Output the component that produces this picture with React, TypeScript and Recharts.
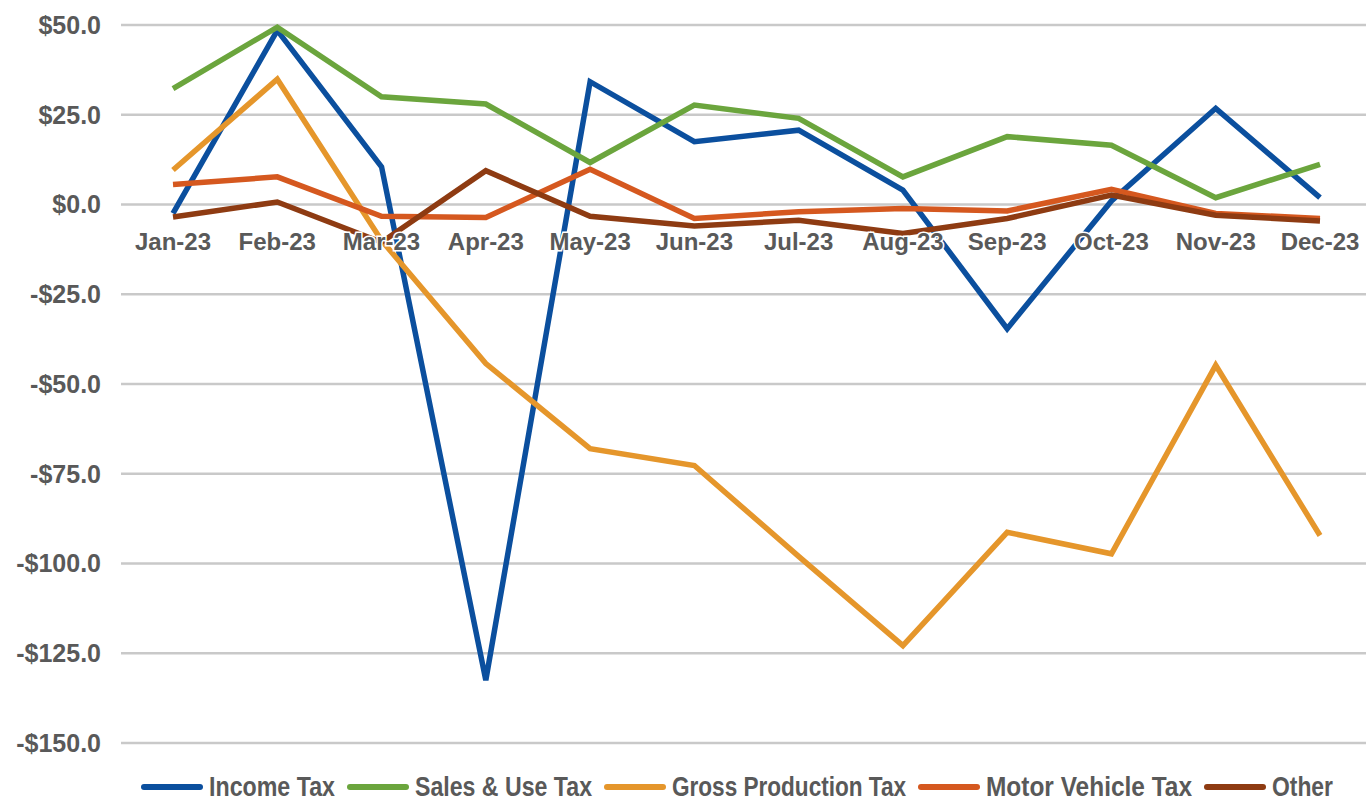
import { CartesianGrid, Legend, Line, LineChart, XAxis, YAxis } from "recharts";

const months = ["Jan-23", "Feb-23", "Mar-23", "Apr-23", "May-23", "Jun-23", "Jul-23", "Aug-23", "Sep-23", "Oct-23", "Nov-23", "Dec-23"];
const incomeTax = [-2.5, 48.5, 10.5, -132.5, 34.2, 17.5, 20.7, 4.0, -34.6, 1.0, 26.8, 1.9];
const salesUseTax = [32.3, 49.4, 30.0, 28.0, 11.7, 27.7, 24.0, 7.7, 18.9, 16.5, 1.9, 11.2];
const grossProductionTax = [9.6, 34.9, -10.0, -44.3, -68.0, -72.7, -98.0, -122.9, -91.3, -97.3, -44.8, -92.2];
const motorVehicleTax = [5.6, 7.7, -3.3, -3.6, 9.8, -3.9, -2.0, -1.1, -1.8, 4.2, -2.5, -3.9];
const other = [-3.5, 0.7, -10.5, 9.4, -3.3, -6.0, -4.4, -8.1, -3.9, 2.6, -3.0, -4.6];
const yTicks = [50, 25, 0, -25, -50, -75, -100, -125, -150];

const Y_MIN = -150;
const Y_MAX = 50;
const TOP = 25;
const PLOT_H = 718;
const ZERO_Y = TOP + (PLOT_H * Y_MAX) / (Y_MAX - Y_MIN);

const TEXT = "#595959";
const FONT = "'Liberation Sans', Arial, sans-serif";

// legend text is condensed in the original, squeeze each label into its width
const legendTextWidth: Record<string, number> = {
    "Income Tax": 126,
    "Sales & Use Tax": 177,
    "Gross Production Tax": 234,
    "Motor Vehicle Tax": 206,
    "Other": 61,
};

const series = [
    { key: "income", name: "Income Tax", color: "#0b4f9e", values: incomeTax },
    { key: "sales", name: "Sales & Use Tax", color: "#6ba53d", values: salesUseTax },
    { key: "gross", name: "Gross Production Tax", color: "#e5962b", values: grossProductionTax },
    { key: "motor", name: "Motor Vehicle Tax", color: "#d5581f", values: motorVehicleTax },
    { key: "other", name: "Other", color: "#8e3b12", values: other },
];

const data = months.map((m, i) => {
    const row: Record<string, string | number> = { month: m };
    series.forEach((s) => (row[s.key] = s.values[i]));
    return row;
});

function money(v: number) {
    const s = `$${Math.abs(v).toFixed(1)}`;
    return v < 0 ? `-${s}` : s;
}

function MonthTick({ x, payload }: any) {
    return (
        <text
            x={x}
            y={ZERO_Y + 45}
            textAnchor="middle"
            fill={TEXT}
            fontFamily={FONT}
            fontWeight="bold"
            fontSize={24}
            stroke="#ffffff"
            strokeWidth={3}
            paintOrder="stroke"
        >
            {payload.value}
        </text>
    );
}

function LegendBox({ payload }: any) {
    const order = series.map((s) => s.name);
    const items = [...(payload || [])].sort((a: any, b: any) => order.indexOf(a.value) - order.indexOf(b.value));
    return (
        <div style={{ display: "flex", alignItems: "center", height: 39, paddingLeft: 141, paddingTop: 8, boxSizing: "border-box" }}>
            {items.map((p: any) => {
                const w = legendTextWidth[p.value] || 100;
                return (
                    <div key={p.value} style={{ display: "flex", alignItems: "center", marginRight: 12 }}>
                        <svg width={62} height={10}>
                            <line x1={3} y1={5} x2={59} y2={5} stroke={p.color} strokeWidth={6} strokeLinecap="round" />
                        </svg>
                        <svg width={w} height={34} style={{ marginLeft: 6, overflow: "visible" }}>
                            <text
                                x={0}
                                y={26}
                                textLength={w}
                                lengthAdjust="spacingAndGlyphs"
                                fill={TEXT}
                                fontFamily={FONT}
                                fontWeight="bold"
                                fontSize={27}
                            >
                                {p.value}
                            </text>
                        </svg>
                    </div>
                );
            })}
        </div>
    );
}

export default function App() {
    return (
        <div style={{ position: "absolute", left: 0, top: 0, width: 1366, height: 802, overflow: "hidden", background: "#fff" }}>
            <LineChart width={1366} height={802} data={data} margin={{ top: TOP, right: 0, left: 0, bottom: 0 }}>
                <CartesianGrid vertical={false} stroke="#c9c9c9" strokeWidth={2.5} />
                <XAxis
                    dataKey="month"
                    height={20}
                    axisLine={false}
                    tickLine={false}
                    interval={0}
                    padding={{ left: 52, right: 46 }}
                    tick={<MonthTick />}
                />
                <YAxis
                    domain={[Y_MIN, Y_MAX]}
                    ticks={yTicks}
                    width={121}
                    axisLine={false}
                    tickLine={false}
                    tickSize={0}
                    tickMargin={20}
                    tickFormatter={money}
                    tick={{ fill: TEXT, fontFamily: FONT, fontWeight: "bold", fontSize: 25 }}
                />
                {series.map((s) => (
                    <Line
                        key={s.key}
                        type="linear"
                        dataKey={s.key}
                        name={s.name}
                        stroke={s.color}
                        strokeWidth={5.5}
                        dot={false}
                        activeDot={false}
                        isAnimationActive={false}
                    />
                ))}
                <Legend verticalAlign="bottom" content={<LegendBox />} />
            </LineChart>
        </div>
    );
}
